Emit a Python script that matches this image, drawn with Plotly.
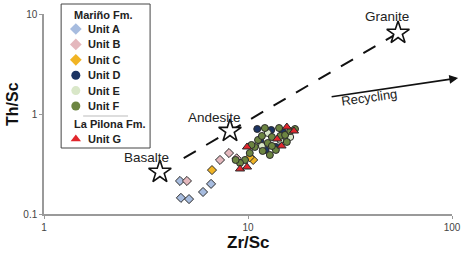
import plotly.graph_objects as go

# ---------------- data ----------------
unit_names = ["Unit A", "Unit B", "Unit C", "Unit D", "Unit E", "Unit F", "Unit G"]
unit_colors = ["#a7bcdf", "#e4b8bd", "#f1b424", "#1c3462", "#d9e7c8", "#6c8541", "#e1262c"]
unit_symbols = ["diamond", "diamond", "diamond", "circle", "circle", "circle", "triangle-up"]

unitA_zr = [4.64, 4.69, 5.14, 6.02, 6.59]
unitA_th = [0.214, 0.145, 0.141, 0.166, 0.200]

unitB_zr = [5.02, 7.29, 8.07, 8.8]
unitB_th = [0.214, 0.347, 0.407, 0.36]

unitC_zr = [6.66, 10.6, 10.2]
unitC_th = [0.275, 0.347, 0.37]

unitD_zr = [11.1, 11.5, 13.0, 13.7, 14.8, 12.2]
unitD_th = [0.708, 0.537, 0.692, 0.468, 0.661, 0.437]

unitE_zr = [12.5, 14.4, 11.7, 16.1]
unitE_th = [0.646, 0.55, 0.479, 0.589]

unitF_zr = [9.67, 10.2, 10.8, 11.2, 11.8, 12.5, 13.1, 13.7, 14.4, 15.2, 16.1, 17.0,
            12.8, 11.7, 14.2, 15.5, 12.1, 9.14, 8.7, 10.4, 13.1]
unitF_th = [0.347, 0.407, 0.468, 0.55, 0.427, 0.513, 0.589, 0.437, 0.603, 0.617, 0.676, 0.708,
            0.389, 0.603, 0.724, 0.525, 0.724, 0.324, 0.347, 0.49, 0.479]

unitG_zr = [15.5, 16.8, 9.89, 14.6, 13.9, 9.14, 9.89]
unitG_th = [0.741, 0.676, 0.468, 0.479, 0.562, 0.282, 0.295]

ref_names = ["Basalte", "Andesite", "Granite"]
ref_zr = [3.7, 8.16, 54.4]
ref_th = [0.263, 0.676, 6.46]

x_tickvals = [1, 10, 100]
x_ticktext = ["1", "10", "100"]
y_tickvals = [0.1, 1, 10]
y_ticktext = ["0.1", "1", "10"]

unit_x = [unitA_zr, unitB_zr, unitC_zr, unitD_zr, unitE_zr, unitF_zr, unitG_zr]
unit_y = [unitA_th, unitB_th, unitC_th, unitD_th, unitE_th, unitF_th, unitG_th]

FONT = "Liberation Sans, Arial, Helvetica, sans-serif"

fig = go.Figure()

# dashed trend line Basalte -> Granite (starts a little past the Basalte star, in log space)
t0 = 0.1
line_x0 = ref_zr[0] * (ref_zr[2] / ref_zr[0]) ** t0
line_y0 = ref_th[0] * (ref_th[2] / ref_th[0]) ** t0
fig.add_trace(go.Scatter(
    x=[line_x0, ref_zr[2]], y=[line_y0, ref_th[2]], mode="lines",
    line=dict(color="#111111", width=2, dash="14px,12px"),
    hoverinfo="skip", showlegend=False))

# data points
for name, xs, ys, col, sym in zip(unit_names, unit_x, unit_y, unit_colors, unit_symbols):
    fig.add_trace(go.Scatter(
        x=xs, y=ys, mode="markers", name=name, showlegend=False,
        marker=dict(symbol=sym, size=7 if sym != "triangle-up" else 8, color=col,
                    line=dict(color="#2a2a2a", width=1))))

# reference stars
fig.add_trace(go.Scatter(
    x=ref_zr, y=ref_th, mode="markers", showlegend=False,
    marker=dict(symbol="star", size=17, color="white", line=dict(color="#111111", width=1.6))))

# ------------- manual legend (overlaid hidden axis in paper-like units) -------------
row_top = 0.925
row_step = 0.077
legend_rows = [row_top - i * row_step for i in range(6)] + [0.375]
for i, (name, col, sym) in enumerate(zip(unit_names, unit_colors, unit_symbols)):
    fig.add_trace(go.Scatter(
        x=[0.078], y=[legend_rows[i]], xaxis="x2", yaxis="y2", mode="markers",
        showlegend=False, hoverinfo="skip",
        marker=dict(symbol=sym, size=9, color=col, line=dict(color=col, width=0))))

annotations = []
for i, name in enumerate(unit_names):
    annotations.append(dict(x=0.103, y=legend_rows[i], xref="paper", yref="paper",
                            text="<b>%s</b>" % name, showarrow=False, xanchor="left",
                            yanchor="middle", font=dict(family=FONT, size=11, color="#222")))
annotations.append(dict(x=0.069, y=0.995, xref="paper", yref="paper", text="<b>Mariño Fm.</b>",
                        showarrow=False, xanchor="left", yanchor="middle",
                        font=dict(family=FONT, size=11, color="#222")))
annotations.append(dict(x=0.069, y=0.45, xref="paper", yref="paper", text="<b>La Pilona Fm.</b>",
                        showarrow=False, xanchor="left", yanchor="middle",
                        font=dict(family=FONT, size=11, color="#222")))

# reference labels
label_pos = [(0.250, 0.285), (0.419, 0.485), (0.841, 0.99)]
for name, (lx, ly) in zip(ref_names, label_pos):
    annotations.append(dict(x=lx, y=ly, xref="paper", yref="paper", text=name, showarrow=False,
                            xanchor="center", yanchor="middle",
                            font=dict(family=FONT, size=13.5, color="#222")))

# recycling arrow
annotations.append(dict(x=1.015, y=0.68, xref="paper", yref="paper", ax=-128, ay=19,
                        axref="pixel", ayref="pixel", text="", showarrow=True,
                        arrowhead=2, arrowsize=1.1, arrowwidth=1.6, arrowcolor="#111"))
annotations.append(dict(x=0.8725, y=0.585, xref="paper", yref="paper", text="Recycling",
                        showarrow=False, textangle=-8,
                        font=dict(family=FONT, size=13, color="#222")))

# axis titles
annotations.append(dict(x=0.5, y=-0.195, xref="paper", yref="paper", text="<b>Zr/Sc</b>",
                        showarrow=False, xanchor="center", yanchor="bottom", borderpad=0,
                        font=dict(family=FONT, size=17, color="#111")))
annotations.append(dict(x=-0.076, y=0.55, xref="paper", yref="paper", text="<b>Th/Sc</b>",
                        showarrow=False, textangle=-90, xanchor="center", yanchor="middle",
                        font=dict(family=FONT, size=16, color="#111")))

shapes = [
    dict(type="rect", xref="paper", yref="paper", x0=0.042, x1=0.26, y0=0.33, y1=1.05,
         line=dict(color="#444", width=1), fillcolor="rgba(0,0,0,0)", layer="above"),
    dict(type="line", xref="paper", yref="paper", x0=0.096, x1=0.206, y0=0.49, y1=0.49,
         line=dict(color="#bbbbbb", width=1)),
]

axis_common = dict(showgrid=False, zeroline=False, showline=True, linecolor="#9a9a9a",
                   linewidth=1.5, ticks="outside", ticklen=3, tickcolor="#9a9a9a",
                   automargin=False,
                   tickfont=dict(family=FONT, size=10, color="#444"))

fig.update_layout(
    width=463, height=253,
    margin=dict(l=44, r=11, t=14, b=39, autoexpand=False),
    paper_bgcolor="white", plot_bgcolor="white",
    xaxis=dict(type="log", range=[0, 2], tickvals=x_tickvals, ticktext=x_ticktext,
               **axis_common),
    yaxis=dict(type="log", range=[-1, 1], tickvals=y_tickvals, ticktext=y_ticktext,
               **axis_common),
    xaxis2=dict(overlaying="x", range=[0, 1], visible=False, anchor="y2", fixedrange=True),
    yaxis2=dict(overlaying="y", range=[0, 1], visible=False, anchor="x2", fixedrange=True),
    annotations=annotations,
    shapes=shapes,
    showlegend=False,
)

fig.write_html("out.html", config={"displayModeBar": False},
               post_script="document.body.style.margin='0px';document.body.style.overflow='hidden';")
